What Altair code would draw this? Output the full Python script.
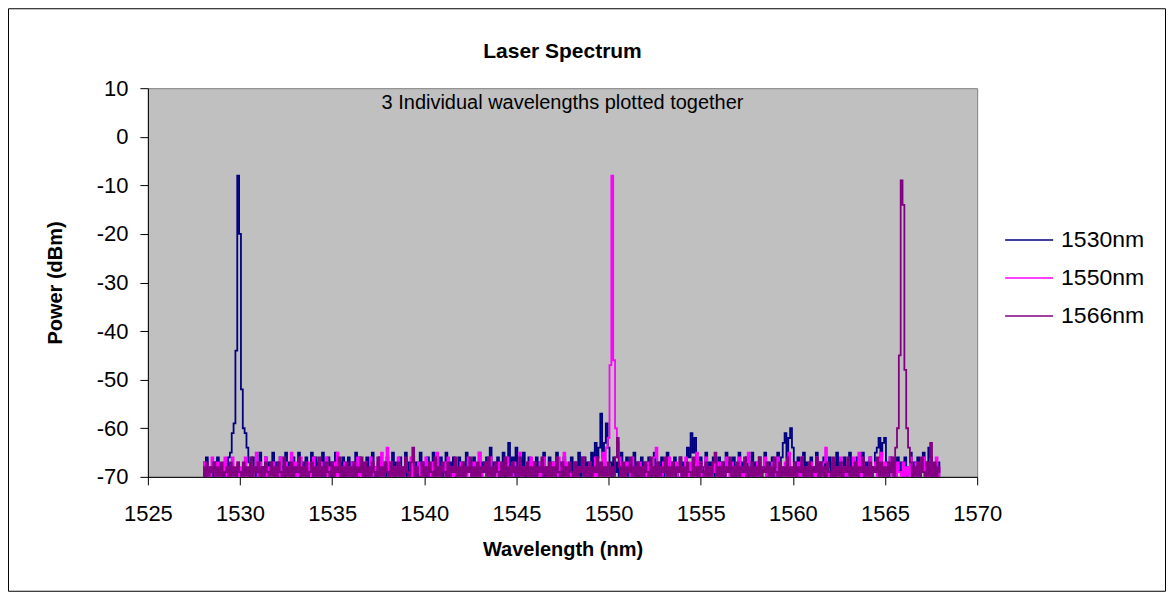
import altair as alt
import pandas as pd
import numpy as np

# ---------------- data ----------------
SERIES = ["1530nm", "1550nm", "1566nm"]
COLORS = ["#000080", "#FF00FF", "#800080"]

# wavelength grid of the OSA traces: 1528.0 nm, step 0.1 nm
WL_START = 1528.0
WL_STEP = 0.1

X_TICKS = [1525, 1530, 1535, 1540, 1545, 1550, 1555, 1560, 1565, 1570]
Y_TICKS = [-70, -60, -50, -40, -30, -20, -10, 0, 10]

# power (dBm) of the 1530 nm trace, one row = 2 nm
p1530 = [
    -67, -70, -66, -69, -68, -71, -67, -70, -66, -69, -68, -71, -67, -70, -66, -65, -61, -59, -44, -8,
    -20, -52, -60, -61, -64, -67, -70, -66, -69, -71, -67, -65, -70, -68, -66, -71, -67, -69, -65, -70,
    -67, -70, -66, -68, -71, -65, -69, -67, -70, -66, -71, -68, -65, -70, -67, -69, -66, -71, -68, -65,
    -70, -66, -69, -67, -71, -65, -70, -68, -66, -70, -67, -71, -65, -69, -67, -70, -66, -71, -68, -66,
    -69, -67, -71, -65, -70, -66, -69, -68, -71, -66, -70, -67, -65, -71, -68, -70, -66, -69, -67, -70,
    -66, -71, -68, -65, -70, -67, -69, -66, -71, -68, -65, -70, -67, -69, -66, -71, -67, -70, -65, -69,
    -67, -70, -66, -71, -68, -65, -70, -67, -69, -66, -71, -68, -65, -70, -67, -69, -66, -70, -68, -66,
    -70, -67, -71, -65, -69, -67, -70, -66, -71, -68, -65, -70, -67, -69, -66, -71, -64, -70, -67, -69,
    -66, -70, -68, -65, -71, -67, -63, -69, -66, -70, -64, -71, -67, -69, -65, -70, -68, -66, -71, -67,
    -70, -66, -69, -67, -71, -65, -70, -68, -66, -71, -67, -69, -65, -70, -67, -71, -66, -69, -68, -70,
    -66, -71, -67, -69, -65, -70, -68, -66, -71, -67, -70, -65, -69, -63, -66, -64, -57, -66, -63, -59,
    -64, -67, -70, -66, -69, -67, -71, -65, -70, -68, -66, -71, -67, -69, -65, -70, -67, -71, -66, -69,
    -67, -70, -66, -71, -68, -65, -70, -67, -69, -66, -71, -68, -65, -70, -67, -69, -66, -71, -68, -66,
    -70, -67, -69, -64, -66, -61, -65, -62, -67, -70, -66, -71, -68, -65, -70, -67, -69, -66, -71, -68,
    -66, -70, -67, -71, -65, -69, -67, -70, -66, -71, -68, -65, -70, -67, -69, -66, -71, -68, -65, -70,
    -67, -69, -66, -71, -68, -65, -70, -67, -69, -66, -71, -68, -65, -70, -66, -63, -61, -66, -62, -60,
    -64, -67, -70, -66, -71, -68, -65, -70, -67, -69, -66, -71, -68, -65, -70, -67, -69, -66, -71, -68,
    -66, -70, -67, -71, -65, -69, -67, -70, -66, -71, -68, -65, -70, -67, -69, -66, -71, -68, -65, -70,
    -67, -69, -66, -71, -68, -65, -64, -62, -66, -63, -62, -67, -70, -66, -69, -67, -71, -66, -69, -67,
    -70, -66, -71, -68, -65, -70, -67, -69, -66, -71, -68, -65, -70, -67, -64, -66, -71, -68, -70, -67,
    -70,
]

# power (dBm) of the 1550 nm trace
p1550 = [
    -69, -67, -71, -68, -70, -66, -69, -71, -67, -70, -68, -69, -66, -71, -68, -70, -66, -69, -71, -67,
    -70, -68, -71, -66, -69, -70, -67, -71, -68, -65, -70, -67, -69, -71, -66, -70, -68, -69, -67, -71,
    -68, -70, -66, -71, -69, -67, -70, -68, -65, -71, -67, -70, -69, -66, -71, -68, -70, -67, -69, -71,
    -66, -70, -68, -71, -67, -69, -70, -66, -71, -68, -69, -67, -70, -65, -71, -68, -69, -67, -70, -68,
    -71, -67, -69, -70, -66, -71, -68, -70, -67, -69, -71, -66, -70, -68, -69, -67, -71, -65, -70, -68,
    -64, -71, -67, -70, -68, -69, -66, -71, -68, -70, -67, -69, -71, -66, -70, -68, -69, -67, -71, -68,
    -70, -66, -69, -71, -67, -70, -68, -65, -71, -68, -69, -67, -70, -66, -71, -68, -70, -67, -69, -71,
    -67, -70, -68, -71, -66, -69, -70, -67, -71, -68, -65, -70, -68, -69, -67, -71, -66, -70, -68, -69,
    -71, -67, -70, -68, -69, -66, -71, -68, -70, -67, -69, -71, -65, -70, -68, -69, -67, -71, -66, -70,
    -68, -69, -71, -67, -70, -66, -69, -71, -68, -70, -67, -69, -71, -66, -70, -68, -65, -71, -67, -70,
    -69, -71, -67, -70, -68, -69, -66, -71, -68, -70, -67, -69, -71, -66, -70, -68, -69, -65, -71, -64,
    -62, -47, -8, -46, -60, -63, -66, -70, -68, -71, -67, -69, -70, -66, -71, -68, -69, -67, -70, -68,
    -71, -67, -70, -68, -69, -66, -64, -70, -68, -71, -67, -69, -70, -66, -71, -68, -69, -67, -70, -71,
    -68, -70, -66, -71, -69, -67, -70, -68, -65, -71, -67, -70, -69, -66, -71, -68, -70, -67, -69, -71,
    -67, -70, -68, -71, -66, -69, -70, -67, -71, -68, -69, -66, -70, -68, -71, -67, -65, -70, -68, -69,
    -71, -67, -70, -68, -69, -66, -71, -68, -70, -67, -69, -71, -66, -70, -68, -69, -67, -71, -65, -70,
    -68, -69, -71, -67, -70, -66, -69, -71, -68, -70, -67, -69, -71, -66, -70, -68, -69, -67, -64, -70,
    -69, -71, -67, -70, -68, -69, -66, -71, -68, -70, -67, -69, -71, -66, -70, -68, -65, -71, -67, -70,
    -68, -70, -66, -71, -69, -67, -70, -68, -65, -71, -67, -70, -69, -66, -71, -68, -70, -67, -69, -71,
    -67, -70, -68, -71, -66, -69, -70, -67, -71, -68, -69, -66, -70, -68, -71, -67, -69, -70, -66, -71,
    -68,
]

# power (dBm) of the 1566 nm trace
p1566 = [
    -68, -70, -67, -71, -68, -69, -67, -70, -68, -71, -67, -70, -69, -68, -71, -67, -70, -68, -70, -67,
    -69, -71, -67, -70, -68, -70, -66, -71, -68, -69, -67, -70, -68, -71, -67, -69, -70, -67, -71, -68,
    -70, -67, -69, -71, -66, -70, -68, -70, -67, -71, -68, -69, -66, -70, -68, -71, -67, -70, -69, -67,
    -71, -68, -70, -66, -70, -68, -71, -67, -69, -70, -67, -71, -68, -69, -66, -70, -68, -71, -67, -70,
    -68, -70, -67, -71, -68, -69, -66, -70, -67, -71, -68, -70, -67, -69, -71, -66, -70, -68, -70, -67,
    -69, -71, -67, -70, -68, -70, -67, -71, -68, -70, -66, -69, -71, -67, -64, -70, -68, -70, -71, -67,
    -70, -68, -71, -67, -69, -70, -66, -71, -68, -70, -67, -69, -71, -67, -70, -68, -69, -66, -70, -68,
    -71, -67, -70, -68, -69, -66, -70, -68, -71, -67, -70, -68, -69, -67, -71, -66, -70, -68, -70, -67,
    -69, -71, -67, -70, -66, -70, -68, -71, -67, -69, -68, -70, -66, -71, -68, -70, -67, -70, -68, -71,
    -67, -70, -68, -69, -66, -71, -68, -70, -67, -70, -68, -71, -66, -69, -70, -67, -71, -68, -70, -67,
    -69, -71, -67, -70, -68, -69, -66, -70, -68, -71, -67, -70, -68, -69, -66, -70, -67, -71, -68, -70,
    -67, -70, -68, -71, -66, -62, -68, -70, -67, -71, -68, -69, -66, -70, -68, -70, -67, -71, -68, -70,
    -67, -69, -71, -66, -70, -68, -70, -67, -71, -68, -69, -66, -70, -68, -71, -67, -70, -68, -69, -66,
    -70, -68, -71, -67, -69, -70, -66, -71, -68, -70, -67, -69, -71, -67, -70, -68, -70, -67, -65, -70,
    -68, -71, -67, -70, -68, -69, -66, -70, -68, -71, -67, -70, -68, -69, -66, -71, -68, -70, -67, -70,
    -68, -71, -66, -70, -68, -69, -67, -71, -68, -70, -66, -69, -71, -67, -70, -68, -71, -66, -70, -68,
    -70, -67, -71, -68, -69, -66, -70, -68, -71, -67, -70, -68, -69, -66, -70, -67, -71, -68, -70, -67,
    -69, -71, -66, -70, -68, -70, -67, -71, -68, -69, -66, -70, -68, -71, -67, -70, -68, -69, -66, -70,
    -68, -71, -67, -70, -68, -69, -66, -70, -67, -71, -68, -70, -67, -69, -66, -70, -64, -60, -45, -9,
    -14, -48, -60, -64, -67, -70, -68, -71, -67, -70, -66, -69, -71, -67, -70, -63, -71, -67, -70, -68,
    -69,
]

NOTE = "3 Individual wavelengths plotted together"
NOTE_WL = [1547.5]
NOTE_DBM = [7.0]

# ---------------- build table ----------------
frames = []
for name, vals in zip(SERIES, [p1530, p1550, p1566]):
    wl = np.round(WL_START + WL_STEP * np.arange(len(vals)), 2)
    frames.append(pd.DataFrame({"wavelength": wl, "power": vals, "series": name}))
df = pd.concat(frames, ignore_index=True)

FONT = "Liberation Sans"
PLAIN_LABEL = "'' + datum.value"   # plain hyphen minus, as in the reference

x_enc = alt.X(
    "wavelength:Q",
    scale=alt.Scale(domain=[1525, 1570], nice=False, zero=False),
    axis=alt.Axis(
        values=X_TICKS, labelExpr=PLAIN_LABEL, title="Wavelength (nm)", grid=False,
        domainColor="black", tickColor="black", tickSize=8,
        labelFont=FONT, labelFontSize=22, labelColor="black", labelPadding=19,
        labelFlush=False, labelOverlap=False,
        titleFont=FONT, titleFontSize=20, titleFontWeight="bold", titleColor="black",
        titleX=415, titleY=73, titleBaseline="middle",
    ),
)
y_enc = alt.Y(
    "power:Q",
    scale=alt.Scale(domain=[-70, 10], nice=False, zero=False),
    axis=alt.Axis(
        values=Y_TICKS, labelExpr=PLAIN_LABEL, title="Power (dBm)", grid=False,
        domainColor="black", tickColor="black", tickSize=8,
        labelFont=FONT, labelFontSize=22, labelColor="black", labelPadding=12,
        labelFlush=False, labelOverlap=False,
        titleFont=FONT, titleFontSize=20, titleFontWeight="bold", titleColor="black",
        titleX=-92, titleY=194.5, titleBaseline="middle", titleAngle=-90,
    ),
)
color_enc = alt.Color(
    "series:N",
    scale=alt.Scale(domain=SERIES, range=COLORS),
    legend=alt.Legend(
        title=None, orient="none", legendX=869, legendY=139,
        symbolType="M-2,0H2", symbolSize=576, symbolStrokeWidth=1.5,
        labelFont=FONT, labelFontSize=23, labelColor="black",
        labelOffset=19, rowPadding=13, padding=0,
    ),
)

layers = []
for name in SERIES:
    layers.append(
        alt.Chart(df)
        .transform_filter(alt.datum.series == name)
        .mark_line(clip=True, strokeWidth=1.8, interpolate="step")
        .encode(x=x_enc, y=y_enc, color=color_enc)
    )

note = (
    alt.Chart(pd.DataFrame({"wavelength": NOTE_WL, "power": NOTE_DBM, "label": [NOTE]}))
    .mark_text(font=FONT, fontSize=20, color="black", align="center", baseline="middle")
    .encode(x="wavelength:Q", y="power:Q", text="label:N")
)

frame = (
    alt.Chart(pd.DataFrame({"z": [0]}))
    .mark_rect(fillOpacity=0, stroke="black", strokeWidth=1)
    .encode(x=alt.value(-139.5), x2=alt.value(1018.5), y=alt.value(-79.5), y2=alt.value(503.5))
)

chart = (
    alt.layer(*layers, note, frame)
    .properties(
        width=830, height=389,
        title=alt.TitleParams("Laser Spectrum", font=FONT, fontSize=21, fontWeight="bold",
                              color="black", anchor="middle", offset=-54),
        autosize=alt.AutoSizeParams(type="none"),
        padding={"left": 140, "top": 80, "right": 190, "bottom": 118},
    )
    .configure(background="white")
    .configure_view(fill="#C0C0C0", stroke="#808080", strokeWidth=1)
)

chart.save("out.html", embed_options={"renderer": "svg", "actions": False})
